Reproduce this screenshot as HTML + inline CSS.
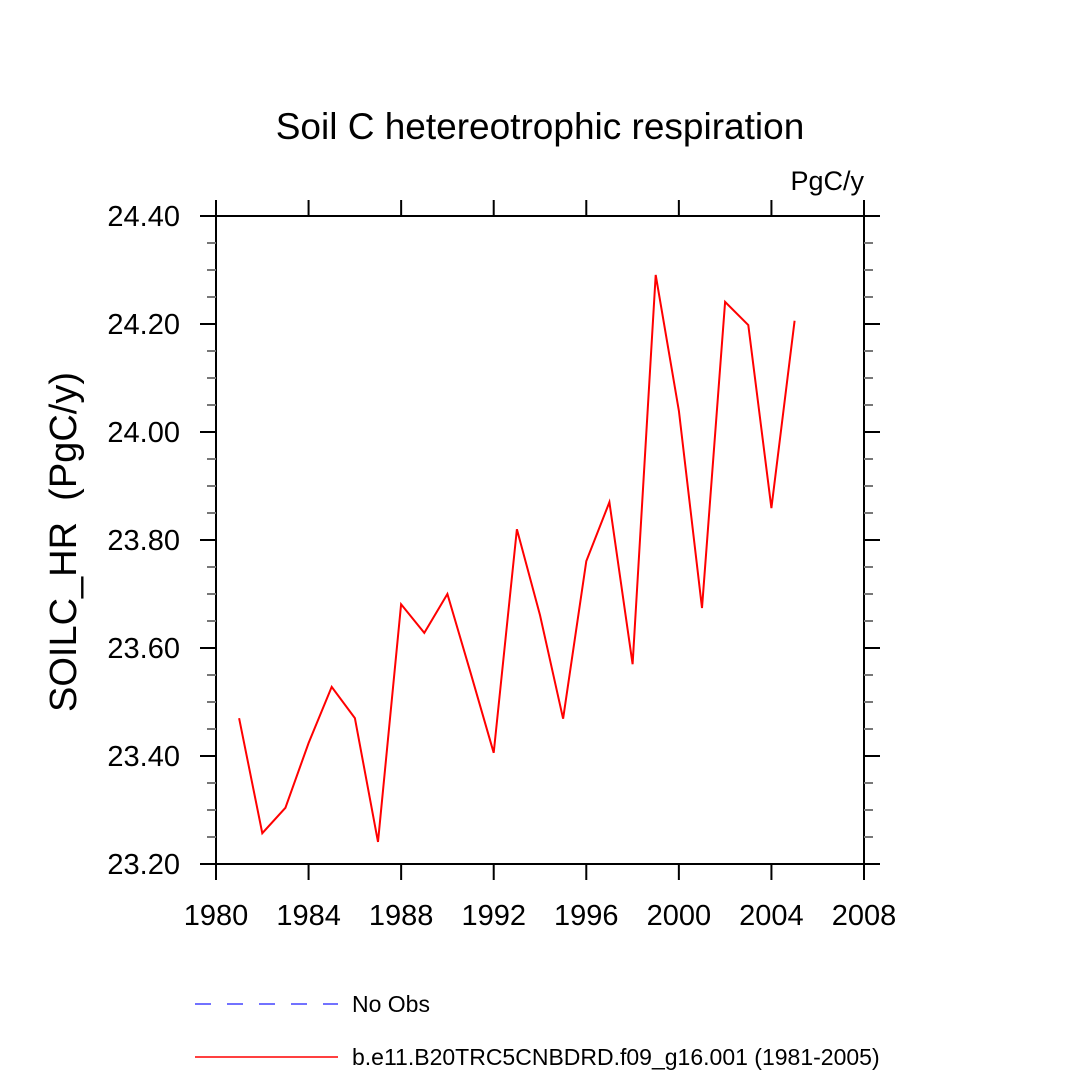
<!DOCTYPE html>
<html><head><meta charset="utf-8"><style>
html,body{margin:0;padding:0;background:#fff;}
svg text{font-family:"Liberation Sans",Arial,sans-serif;fill:#000;}
</style></head><body>
<svg id="chart" width="1080" height="1080" viewBox="0 0 1080 1080" xmlns="http://www.w3.org/2000/svg">
<rect width="1080" height="1080" fill="#fff"/>
<text x="540" y="139" font-size="37" text-anchor="middle">Soil C hetereotrophic respiration</text>
<text x="864" y="190" font-size="27" text-anchor="end">PgC/y</text>
<text transform="translate(76,542) rotate(-90)" font-size="38" text-anchor="middle" xml:space="preserve">SOILC_HR  (PgC/y)</text>
<g id="axes"></g>
<g id="series"></g>
<g>
<line x1="195" y1="1004" x2="338" y2="1004" stroke="#4444ff" stroke-width="1.5" stroke-dasharray="16,16"/>
<text x="352" y="1012" font-size="23">No Obs</text>
<line x1="195" y1="1057" x2="338" y2="1057" stroke="#ff0000" stroke-width="1.5"/>
<text x="352" y="1065" font-size="23">b.e11.B20TRC5CNBDRD.f09_g16.001 (1981-2005)</text>
</g>
</svg>
<script>
const years=[1981,1982,1983,1984,1985,1986,1987,1988,1989,1990,1991,1992,1993,1994,1995,1996,1997,1998,1999,2000,2001,2002,2003,2004,2005];
const values=[23.470,23.257,23.304,23.424,23.528,23.470,23.241,23.681,23.628,23.700,23.554,23.406,23.820,23.661,23.469,23.761,23.870,23.570,24.291,24.039,23.674,24.241,24.198,23.859,24.206];
const xTicks=[1980,1984,1988,1992,1996,2000,2004,2008];
const yTicks=[23.20,23.40,23.60,23.80,24.00,24.20,24.40];
const L=216,R=864,T=216,B=864,X0=1980,X1=2008,Y0=23.2,Y1=24.4;
const sx=v=>L+(v-X0)/(X1-X0)*(R-L);
const sy=v=>B-(v-Y0)/(Y1-Y0)*(B-T);
const NS='http://www.w3.org/2000/svg';
const ax=document.getElementById('axes');
function mk(tag,attrs,parent){const e=document.createElementNS(NS,tag);for(const k in attrs)e.setAttribute(k,attrs[k]);parent.appendChild(e);return e;}
const frame=mk('rect',{x:L,y:T,width:R-L,height:B-T,fill:'none',stroke:'#000','stroke-width':2},ax);


xTicks.forEach(t=>{
 const x=sx(t);
 const a=mk('line',{x1:x,y1:B,x2:x,y2:B+16,stroke:'#000','stroke-width':2},ax);
 
 
 const b=mk('line',{x1:x,y1:T,x2:x,y2:T-16,stroke:'#000','stroke-width':2},ax);
 
 
 const tx=mk('text',{x:x,y:B+61,'font-size':29,'text-anchor':'middle'},ax);
 tx.textContent=t;
 
 
});
for(let v=Y0;v<=Y1+1e-6;v+=0.05){
 const y=sy(v);
 const isMajor=Math.abs(Math.round(v*5)-v*5)<1e-6;
 const len=isMajor?16:9, col=isMajor?'#000':'#777';
 const a=mk('line',{x1:L,y1:y,x2:L-len,y2:y,stroke:col,'stroke-width':2},ax);
 
 
 const b=mk('line',{x1:R,y1:y,x2:R+len,y2:y,stroke:col,'stroke-width':2},ax);
 
 
}
yTicks.forEach(t=>{
 const tx=mk('text',{x:180,y:sy(t)+10,'font-size':29,'text-anchor':'end'},ax);
 tx.textContent=t.toFixed(2);
 
 
});
const pts=years.map((yr,i)=>sx(yr).toFixed(1)+','+sy(values[i]).toFixed(1)).join(' ');
const pl=mk('polyline',{points:pts,fill:'none',stroke:'#ff0000','stroke-width':2,'stroke-linejoin':'miter'},document.getElementById('series'));


</script>
</body></html>
